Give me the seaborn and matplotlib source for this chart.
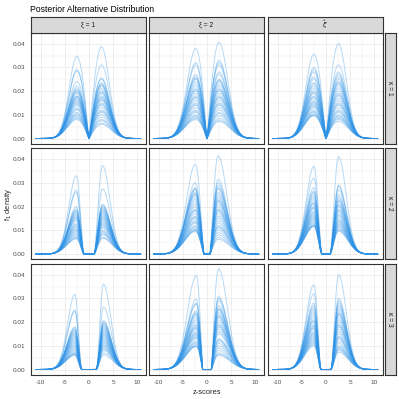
import numpy as np
import pandas as pd
import seaborn as sns
import matplotlib.pyplot as plt
from matplotlib.ticker import MultipleLocator

# --- facet labels ---
xi_labels = ['ξ = 1', 'ξ = 2', r'$\hat{\xi}$']
kappa_labels = ['κ = 1', 'κ = 2', 'κ = 3']

# --- posterior draws: peak heights of the left / right bump (one entry per draw) ---
# each list holds [xi=1, xi=2, xi-hat] for one kappa row
left_k1 = [
    [0.0346, 0.029, 0.0285, 0.024, 0.022, 0.021, 0.0205, 0.020, 0.0195, 0.019, 0.018, 0.0178, 0.0175, 0.017, 0.0165,
     0.016, 0.0155, 0.015, 0.0145, 0.014, 0.013, 0.0125, 0.012, 0.011, 0.0105, 0.010, 0.0095, 0.009, 0.0085, 0.008],
    [0.038, 0.032, 0.031, 0.027, 0.026, 0.0255, 0.025, 0.024, 0.023, 0.022, 0.021, 0.0205, 0.020, 0.019, 0.018,
     0.0175, 0.017, 0.016, 0.015, 0.0145, 0.014, 0.013, 0.012, 0.0115, 0.011, 0.010, 0.0095, 0.009, 0.0085, 0.008],
    [0.0356, 0.030, 0.029, 0.028, 0.026, 0.025, 0.0235, 0.023, 0.022, 0.021, 0.020, 0.0195, 0.019, 0.018, 0.0175,
     0.017, 0.016, 0.0155, 0.015, 0.0145, 0.014, 0.0135, 0.013, 0.012, 0.0115, 0.011, 0.0105, 0.010, 0.0098, 0.0096],
]
right_k1 = [
    [0.0386, 0.031, 0.0255, 0.025, 0.0235, 0.023, 0.0225, 0.022, 0.021, 0.020, 0.0195, 0.019, 0.018, 0.0175, 0.017,
     0.0165, 0.016, 0.015, 0.0145, 0.014, 0.013, 0.012, 0.0115, 0.011, 0.010, 0.009, 0.008, 0.0075, 0.0065, 0.006],
    [0.0405, 0.033, 0.032, 0.031, 0.028, 0.027, 0.025, 0.0245, 0.024, 0.023, 0.022, 0.021, 0.0205, 0.020, 0.019,
     0.018, 0.0175, 0.017, 0.016, 0.015, 0.0145, 0.014, 0.013, 0.012, 0.011, 0.0105, 0.0095, 0.0085, 0.0078, 0.0072],
    [0.040, 0.031, 0.028, 0.027, 0.026, 0.025, 0.024, 0.0235, 0.023, 0.022, 0.021, 0.020, 0.019, 0.0185, 0.018,
     0.017, 0.016, 0.015, 0.0145, 0.014, 0.013, 0.012, 0.0115, 0.011, 0.010, 0.0095, 0.009, 0.0085, 0.008, 0.0072],
]
left_k2 = [
    [0.033, 0.027, 0.026, 0.020, 0.019, 0.0185, 0.018, 0.0175, 0.017, 0.0165, 0.016, 0.0155, 0.015, 0.0145, 0.014,
     0.013, 0.0125, 0.012, 0.0115, 0.011, 0.0105, 0.010, 0.0095, 0.009, 0.0085, 0.008, 0.0075, 0.007, 0.0067, 0.0064],
    [0.0378, 0.030, 0.028, 0.0275, 0.027, 0.026, 0.0255, 0.025, 0.024, 0.023, 0.022, 0.021, 0.020, 0.019, 0.0185,
     0.018, 0.017, 0.016, 0.0155, 0.015, 0.014, 0.0135, 0.013, 0.012, 0.0115, 0.011, 0.0105, 0.010, 0.0099, 0.0095],
    [0.037, 0.032, 0.028, 0.0265, 0.026, 0.025, 0.024, 0.023, 0.022, 0.0215, 0.021, 0.020, 0.0195, 0.019, 0.018,
     0.0175, 0.017, 0.0165, 0.016, 0.0155, 0.015, 0.0145, 0.014, 0.0135, 0.013, 0.0125, 0.012, 0.012, 0.0118, 0.0115],
]
right_k2 = [
    [0.0373, 0.0275, 0.021, 0.0205, 0.020, 0.0195, 0.019, 0.0185, 0.018, 0.0175, 0.017, 0.0165, 0.016, 0.0155, 0.015,
     0.0145, 0.014, 0.0135, 0.013, 0.0125, 0.012, 0.0115, 0.011, 0.010, 0.0095, 0.009, 0.0085, 0.008, 0.007, 0.0068],
    [0.0414, 0.0315, 0.030, 0.029, 0.028, 0.0275, 0.026, 0.025, 0.024, 0.023, 0.0225, 0.022, 0.021, 0.020, 0.019,
     0.0185, 0.018, 0.017, 0.016, 0.015, 0.014, 0.013, 0.012, 0.0115, 0.011, 0.010, 0.009, 0.008, 0.007, 0.0062],
    [0.041, 0.029, 0.0285, 0.027, 0.025, 0.024, 0.023, 0.0225, 0.022, 0.021, 0.0205, 0.020, 0.019, 0.0185, 0.018,
     0.017, 0.0165, 0.016, 0.015, 0.0145, 0.014, 0.0135, 0.013, 0.0125, 0.012, 0.0115, 0.011, 0.0105, 0.010, 0.0096],
]
left_k3 = [
    [0.0317, 0.025, 0.0245, 0.018, 0.0175, 0.017, 0.0165, 0.016, 0.0155, 0.015, 0.0145, 0.014, 0.0135, 0.013, 0.0125,
     0.012, 0.0115, 0.011, 0.0105, 0.010, 0.0095, 0.009, 0.0085, 0.008, 0.0075, 0.007, 0.0068, 0.0065, 0.0062, 0.006],
    [0.0396, 0.0296, 0.028, 0.0275, 0.0247, 0.024, 0.0235, 0.023, 0.022, 0.021, 0.020, 0.019, 0.0185, 0.018, 0.0175,
     0.017, 0.016, 0.0155, 0.015, 0.0145, 0.014, 0.0135, 0.013, 0.012, 0.0115, 0.011, 0.0105, 0.010, 0.0098, 0.0097],
    [0.0358, 0.032, 0.028, 0.027, 0.026, 0.025, 0.024, 0.023, 0.022, 0.021, 0.0205, 0.020, 0.019, 0.0185, 0.018,
     0.0175, 0.017, 0.016, 0.0155, 0.015, 0.0145, 0.014, 0.0135, 0.013, 0.0125, 0.012, 0.0115, 0.011, 0.0105, 0.010],
]
right_k3 = [
    [0.036, 0.0264, 0.0206, 0.020, 0.0195, 0.019, 0.0185, 0.018, 0.0175, 0.017, 0.0165, 0.016, 0.0155, 0.015, 0.0145,
     0.014, 0.0135, 0.013, 0.0125, 0.012, 0.0115, 0.011, 0.0105, 0.010, 0.0095, 0.009, 0.0085, 0.008, 0.007, 0.0062],
    [0.0424, 0.0307, 0.030, 0.029, 0.027, 0.026, 0.0255, 0.025, 0.024, 0.023, 0.0225, 0.022, 0.021, 0.020, 0.019,
     0.0185, 0.018, 0.017, 0.016, 0.015, 0.013, 0.0125, 0.012, 0.011, 0.010, 0.009, 0.008, 0.007, 0.0065, 0.006],
    [0.040, 0.030, 0.029, 0.028, 0.027, 0.026, 0.025, 0.024, 0.0235, 0.023, 0.022, 0.021, 0.020, 0.019, 0.0185,
     0.018, 0.017, 0.016, 0.015, 0.014, 0.0135, 0.013, 0.012, 0.011, 0.010, 0.0095, 0.009, 0.0085, 0.008, 0.0073],
]

# --- bump shape per panel (rows = kappa, cols = xi) ---
peak_left = [[2.5, 2.3, 2.5], [2.6, 2.4, 2.5], [2.9, 2.2, 2.5]]
peak_right = [[2.6, 2.5, 2.6], [2.8, 2.3, 2.6], [3.0, 2.4, 2.6]]
spread = [[1.75, 2.0, 1.8], [1.7, 2.0, 1.75], [1.65, 2.05, 1.75]]
zero_zone = [[0.0, 0.0, 0.0], [1.0, 0.6, 0.8], [1.4, 0.9, 1.0]]
inner_power = [[1.2, 1.2, 1.2], [2.0, 1.5, 2.0], [2.5, 1.3, 2.0]]

z_grid = np.linspace(-11.0, 10.7, 435)


def side_shape(r, peak, sd, z0, power):
    outer = np.exp(-(r - peak) ** 2 / (2 * sd ** 2))
    u = np.clip((peak - r) / (peak - z0), 0, 1)
    inner = (1 - u ** 2) ** power
    return np.where(r >= peak, outer, inner)


lefts = [left_k1, left_k2, left_k3]
rights = [right_k1, right_k2, right_k3]
frames = []
for k in range(3):
    for x in range(3):
        zl = np.clip(-z_grid, 0, None)
        zr = np.clip(z_grid, 0, None)
        for d, (hl, hr) in enumerate(zip(lefts[k][x], rights[k][x])):
            # flatter draws spread a little wider
            sl = spread[k][x] * (0.018 / hl) ** 0.12
            sr = spread[k][x] * (0.018 / hr) ** 0.12
            f_l = side_shape(zl, peak_left[k][x], sl, zero_zone[k][x], inner_power[k][x])
            f_r = side_shape(zr, peak_right[k][x], sr, zero_zone[k][x], inner_power[k][x])
            f = hl * np.where(z_grid < 0, f_l, 0) + hr * np.where(z_grid > 0, f_r, 0)
            frames.append(pd.DataFrame({'z': z_grid, 'f1': f, 'draw': d, 'kappa': k, 'xi': x}))
df = pd.concat(frames, ignore_index=True)

# --- plotting ---
sns.set_style('white')
plt.rcParams['font.family'] = ['Liberation Sans', 'DejaVu Sans']
plt.rcParams['mathtext.fontset'] = 'dejavusans'
plt.rcParams['axes.unicode_minus'] = False

W = H = 399
fig = plt.figure(figsize=(3.99, 3.99), dpi=100)

col_left = [30.5, 148.5, 267.5]
row_top = [33, 148.5, 264]
pw, ph = 115.5, 110.5
border = '#333333'
grid_c = '#EBEBEB'

for k in range(3):
    for x in range(3):
        ax = fig.add_axes([col_left[x] / W, 1 - (row_top[k] + ph) / H, pw / W, ph / H])
        sub = df[(df.kappa == k) & (df.xi == x)]
        sns.lineplot(data=sub, x='z', y='f1', units='draw', estimator=None,
                     color='#2E93E6', alpha=0.35, lw=0.7, ax=ax, legend=False)
        ax.set_xlim(-12.1, 11.8)
        ax.set_ylim(-0.0021, 0.0445)
        ax.xaxis.set_major_locator(MultipleLocator(5))
        ax.xaxis.set_minor_locator(MultipleLocator(2.5))
        ax.yaxis.set_major_locator(MultipleLocator(0.01))
        ax.yaxis.set_minor_locator(MultipleLocator(0.005))
        ax.grid(which='major', color=grid_c, lw=0.6)
        ax.grid(which='minor', color=grid_c, lw=0.35)
        ax.set_axisbelow(True)
        for s in ax.spines.values():
            s.set_color(border)
            s.set_linewidth(0.8)
        ax.set_xlabel('')
        ax.set_ylabel('')
        ax.tick_params(which='both', length=0, labelsize=4.6, labelcolor='#4D4D4D', pad=1.5)
        if x == 0:
            ax.tick_params(axis='y', which='major', length=2.2, color=border, width=0.5)
            ax.yaxis.set_major_formatter(plt.FuncFormatter(lambda v, p: f'{v:.2f}'))
        else:
            ax.set_yticklabels([])
        if k == 2:
            ax.tick_params(axis='x', which='major', length=2.2, color=border, width=0.5)
        else:
            ax.set_xticklabels([])

        # strips
        if k == 0:
            sax = fig.add_axes([col_left[x] / W, 1 - 32.5 / H, pw / W, 16 / H])
            sax.set_facecolor('#D9D9D9')
            sax.set_xticks([]); sax.set_yticks([])
            for s in sax.spines.values():
                s.set_color(border); s.set_linewidth(0.8)
            sax.text(0.5, 0.5, xi_labels[x], ha='center', va='center', fontsize=4.8,
                     color='#1A1A1A', transform=sax.transAxes)
        if x == 2:
            sax = fig.add_axes([384.5 / W, 1 - (row_top[k] + ph) / H, 11 / W, ph / H])
            sax.set_facecolor('#D9D9D9')
            sax.set_xticks([]); sax.set_yticks([])
            for s in sax.spines.values():
                s.set_color(border); s.set_linewidth(0.8)
            sax.text(0.5, 0.5, kappa_labels[k], ha='center', va='center', fontsize=4.8,
                     color='#1A1A1A', rotation=-90, transform=sax.transAxes)

fig.text(30.5 / W, 1 - 9 / H, 'Posterior Alternative Distribution', fontsize=6.2,
         ha='left', va='center', color='black')
fig.text(207 / W, 1 - 392 / H, 'z-scores', fontsize=5.4, ha='center', va='center')
fig.text(8 / W, 1 - 204 / H, r'f$_1$ density', fontsize=5.4, ha='center', va='center', rotation=90)

fig.savefig('out.png', dpi=100)
